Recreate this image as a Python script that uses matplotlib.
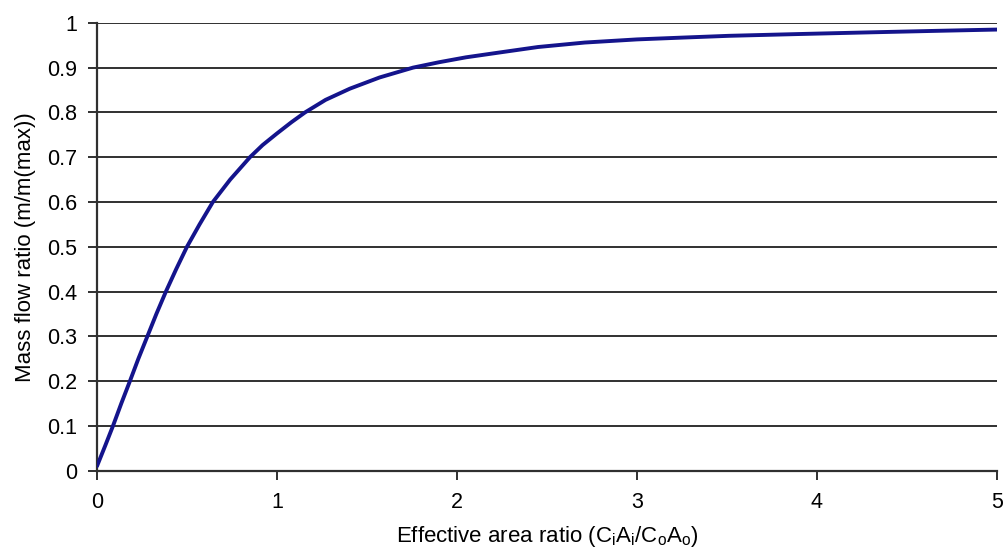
import matplotlib
matplotlib.use("Agg")
import matplotlib.pyplot as plt

plt.rcParams["font.family"] = ["Liberation Sans", "DejaVu Sans"]
plt.rcParams["mathtext.fontset"] = "custom"
plt.rcParams["mathtext.rm"] = "Liberation Sans"

# curve
area_ratio = [0.0, 0.045, 0.089, 0.135, 0.183, 0.23, 0.28, 0.33, 0.383, 0.44,
              0.50, 0.57, 0.644, 0.74, 0.85, 0.92, 1.0, 1.08, 1.156, 1.27,
              1.405, 1.57, 1.756, 1.9, 2.05, 2.24, 2.45, 2.71, 3.0, 3.25,
              3.51, 3.9, 4.32, 4.65, 5.0]
flow_ratio = [0.01, 0.055, 0.10, 0.15, 0.20, 0.25, 0.30, 0.35, 0.40, 0.45,
              0.50, 0.55, 0.60, 0.65, 0.70, 0.727, 0.753, 0.778, 0.80, 0.828,
              0.853, 0.878, 0.90, 0.912, 0.923, 0.934, 0.946, 0.956, 0.963, 0.967,
              0.971, 0.975, 0.979, 0.982, 0.985]

x_ticks = [0, 1, 2, 3, 4, 5]
y_ticks = [0, 0.1, 0.2, 0.3, 0.4, 0.5, 0.6, 0.7, 0.8, 0.9, 1]
y_labels = ["0", "0.1", "0.2", "0.3", "0.4", "0.5", "0.6", "0.7", "0.8", "0.9", "1"]

fig = plt.figure(figsize=(10.06, 5.57), dpi=100)
ax = fig.add_axes([0.0964, 0.155, 0.8946, 0.804])

for yv in y_ticks:
    ax.axhline(yv, color="#303030", lw=1.4, zorder=1)

ax.plot(area_ratio, flow_ratio, color="#14148c", lw=2.8, zorder=3,
        solid_capstyle="round", solid_joinstyle="round")

ax.set_xlim(0, 5)
ax.set_ylim(0, 1)
ax.set_xticks(x_ticks)
ax.set_yticks(y_ticks)
ax.set_yticklabels(y_labels)
ax.tick_params(labelsize=15.5, length=6.5, width=1.4, color="#303030")
ax.tick_params(axis="y", pad=8)
ax.tick_params(axis="x", pad=9)

for side in ["top", "right"]:
    ax.spines[side].set_visible(False)
for side in ["left", "bottom"]:
    ax.spines[side].set_color("#303030")
    ax.spines[side].set_linewidth(1.6)

ax.set_xlabel(r"Effective area ratio (C$_\mathrm{i}$A$_\mathrm{i}$/C$_\mathrm{o}$A$_\mathrm{o}$)",
              fontsize=16, labelpad=8)
ax.set_ylabel("Mass flow ratio (m/m(max))", fontsize=16, labelpad=8)

fig.savefig("out.png", dpi=100)
